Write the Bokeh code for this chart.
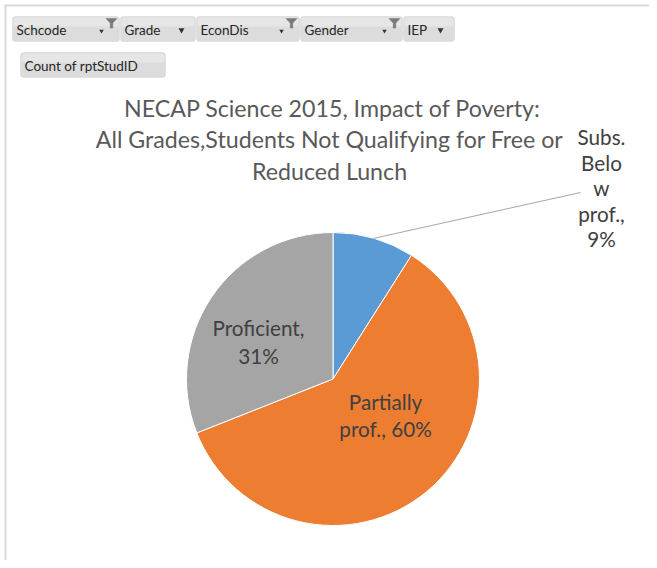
import math
from bokeh.plotting import figure
from bokeh.models import Range1d, BoxAnnotation, ColumnDataSource
from bokeh.core.properties import value
from bokeh.embed import file_html
from bokeh.resources import INLINE

# ---------------- data ----------------
categories = ["Subs. Below prof.", "Partially prof.", "Proficient"]
percents = [9, 60, 31]
slice_colors = ["#5B9BD5", "#ED7D31", "#A5A5A5"]
label_lines = [
    ["Subs.", "Belo", "w", "prof.,", "9%"],
    ["Partially", "prof., 60%"],
    ["Proficient,", "31%"],
]
title_lines = [
    "NECAP Science 2015, Impact of Poverty:",
    "All Grades,Students  Not Qualifying for Free or",
    "Reduced  Lunch",
]
filter_buttons = ["Schcode", "Grade", "EconDis", "Gender", "IEP"]
filter_active = [True, False, True, True, False]
value_button = "Count of rptStudID"

# ---------------- layout (reference pixel coords) ----------------
OX, OY = 0, 0
W, H = 649, 560
PAGE_H = OY + H


def Y(py):
    return PAGE_H - py


p = figure(width=W, height=H, output_backend="svg", toolbar_location=None,
           x_range=Range1d(OX, OX + W), y_range=Range1d(0, H),
           min_border=0, outline_line_color=None)
p.axis.visible = False
p.grid.visible = False
p.background_fill_color = "white"
p.border_fill_color = "white"

# outer frame lines (top and left)
p.segment(x0=[4, 5], y0=[Y(5), Y(4)], x1=[OX + W, 5], y1=[Y(5), Y(OY + H)],
          line_color="#D9D9D9", line_width=2)

# ---------------- buttons ----------------
btn_lr = [(12, 119), (120, 195), (196, 299), (300, 402), (403, 454)]
for (l, r), name, active in zip(btn_lr, filter_buttons, filter_active):
    p.add_layout(BoxAnnotation(left=l, right=r, top=Y(16), bottom=Y(41),
                               fill_color="#DCDCDC", fill_alpha=1.0, level="underlay",
                               line_color="#C3C3C3", line_width=1, border_radius=3))
    p.add_layout(BoxAnnotation(left=l + 1, right=r - 1, top=Y(17), bottom=Y(26),
                               fill_color="#E6E6E6", fill_alpha=1.0, line_color=None,
                               level="underlay", border_radius=2))
    p.text(x=[l + 4], y=[Y(29.5)], text=[name], text_font=value("Lato"),
           text_font_size="13.5px", text_color="#262626", text_baseline="middle",
           text_align="left")
    if active:
        fx = r - 8
        fy = 18
        p.patch(x=[fx - 5.5, fx + 5.5, fx + 1.3, fx + 1.3, fx - 1.3, fx - 1.3],
                y=[Y(fy), Y(fy), Y(fy + 4.5), Y(fy + 9.5), Y(fy + 9.5), Y(fy + 4.5)],
                fill_color="#7A7A7A", line_color="#7A7A7A", line_width=0.5)
        p.scatter(x=[fx - 10], y=[Y(30.5)], marker="inverted_triangle", size=4.5,
                  fill_color="#333333", line_color=None)
    else:
        p.scatter(x=[r - 14], y=[Y(29.5)], marker="inverted_triangle", size=6,
                  fill_color="#333333", line_color=None)

p.add_layout(BoxAnnotation(left=20, right=165, top=Y(52), bottom=Y(77),
                           fill_color="#DCDCDC", fill_alpha=1.0, level="underlay",
                           line_color="#C3C3C3", line_width=1, border_radius=3))
p.add_layout(BoxAnnotation(left=21, right=164, top=Y(53), bottom=Y(62),
                           fill_color="#E6E6E6", fill_alpha=1.0, line_color=None,
                           level="underlay", border_radius=2))
p.text(x=[24], y=[Y(65)], text=[value_button], text_font=value("Lato"),
       text_font_size="13.5px", text_color="#262626", text_baseline="middle",
       text_align="left")

# ---------------- title ----------------
TCX = 332
t_y = [Y(107 + i * 31.5) for i in range(len(title_lines))]
p.text(x=[TCX] * len(title_lines), y=t_y, text=title_lines, text_font=value("Lato"),
       text_font_size="23.2px", text_color="#595959", text_align="center",
       text_baseline="middle")

# ---------------- pie ----------------
CX, CY, R = 332.5, 378.5, 146.5
total = float(sum(percents))
starts, ends, mids = [], [], []
cum = 0.0
for v in percents:
    a0 = math.pi / 2 - 2 * math.pi * cum / total
    cum += v
    a1 = math.pi / 2 - 2 * math.pi * cum / total
    starts.append(a0)
    ends.append(a1)
    mids.append((a0 + a1) / 2)

src = ColumnDataSource(dict(cat=categories, pct=percents, start=starts, end=ends,
                            color=slice_colors))
p.wedge(x=CX, y=Y(CY), radius=R, start_angle="start", end_angle="end",
        direction="clock", fill_color="color", line_color="white", line_width=1,
        source=src)

# leader line for the small slice
lx0 = CX + R * math.cos(mids[0])
ly0 = Y(CY) + R * math.sin(mids[0])
p.line(x=[lx0, 580], y=[ly0, Y(192)], line_color="#A6A6A6", line_width=1)

# ---------------- data labels ----------------
label_centers = [(601, 187.5, 25.5), (385, 415, 27.5), (258, 341, 28)]
lx, ly, lt = [], [], []
for lines, (cx, cy, sp) in zip(label_lines, label_centers):
    n = len(lines)
    for i, s in enumerate(lines):
        lx.append(cx)
        ly.append(Y(cy + (i - (n - 1) / 2) * sp))
        lt.append(s)
p.text(x=lx, y=ly, text=lt, text_font=value("Lato"), text_font_size="20.7px",
       text_color="#404040", text_align="center", text_baseline="middle")

open("out.html", "w").write(file_html(p, INLINE))
